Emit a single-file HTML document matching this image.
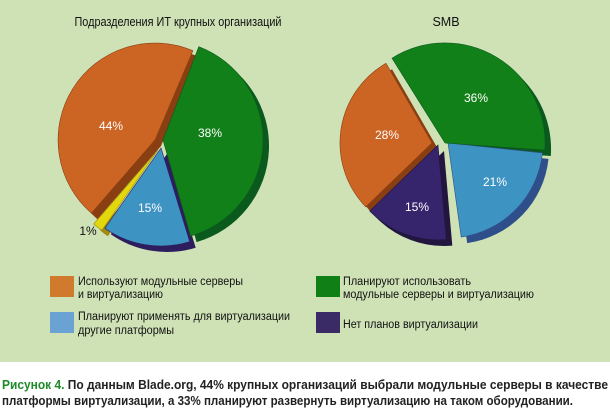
<!DOCTYPE html>
<html><head><meta charset="utf-8"><style>
html,body{margin:0;padding:0;background:#fff;}
svg{display:block}
text{font-family:"Liberation Sans","DejaVu Sans",sans-serif;}
</style></head><body>
<svg id="s" width="610" height="409" viewBox="0 0 610 409" xmlns="http://www.w3.org/2000/svg">
<rect x="0" y="0" width="610" height="362" fill="#cfe2b6"/>
<g id="pies"></g>
<text x="178" y="26" font-size="12.5" text-anchor="middle" fill="#111" textLength="207" lengthAdjust="spacingAndGlyphs">Подразделения ИТ крупных организаций</text>
<text x="446" y="26" font-size="12.5" text-anchor="middle" fill="#111">SMB</text>
<g font-size="12" fill="#fff" text-anchor="middle">
<text x="111" y="130">44%</text>
<text x="210" y="137">38%</text>
<text x="150" y="212">15%</text>
<text x="387" y="139">28%</text>
<text x="476" y="102">36%</text>
<text x="495" y="186">21%</text>
<text x="417" y="211">15%</text>
</g>
<text x="88" y="235" font-size="12" fill="#111" text-anchor="middle">1%</text>
<g font-size="11.5" fill="#111">
<rect x="50" y="276" width="24" height="21" fill="#d07a2e"/>
<text x="78" y="285" textLength="165" lengthAdjust="spacingAndGlyphs">Используют модульные серверы</text>
<text x="78" y="298" textLength="85" lengthAdjust="spacingAndGlyphs">и виртуализацию</text>
<rect x="50" y="312" width="24" height="21" fill="#6ba2d4"/>
<text x="78" y="320" textLength="212" lengthAdjust="spacingAndGlyphs">Планируют применять для виртуализации</text>
<text x="78" y="334" textLength="96" lengthAdjust="spacingAndGlyphs">другие платформы</text>
<rect x="316" y="276" width="24" height="21" fill="#108016"/>
<text x="343" y="285" textLength="128" lengthAdjust="spacingAndGlyphs">Планируют использовать</text>
<text x="343" y="298" textLength="191" lengthAdjust="spacingAndGlyphs">модульные серверы и виртуализацию</text>
<rect x="316" y="312" width="24" height="21" fill="#3a2a66"/>
<text x="343" y="328" textLength="135" lengthAdjust="spacingAndGlyphs">Нет планов виртуализации</text>
</g>
<g font-size="12.5" font-weight="bold" fill="#222">
<text x="2" y="389" textLength="606" lengthAdjust="spacingAndGlyphs"><tspan fill="#1f8a2a">Рисунок 4.</tspan> По данным Blade.org, 44% крупных организаций выбрали модульные серверы в качестве</text>
<text x="2" y="405" textLength="571" lengthAdjust="spacingAndGlyphs">платформы виртуализации, а 33% планируют развернуть виртуализацию на таком оборудовании.</text>
</g>
</svg>
<script>
function wedge(cx,cy,r,a0,a1){
 var rad=function(a){return (a-90)*Math.PI/180;};
 var x0=cx+r*Math.cos(rad(a0)),y0=cy+r*Math.sin(rad(a0));
 var x1=cx+r*Math.cos(rad(a1)),y1=cy+r*Math.sin(rad(a1));
 var large=(a1-a0)>180?1:0;
 return "M"+cx+","+cy+" L"+x0.toFixed(1)+","+y0.toFixed(1)+" A"+r+","+r+" 0 "+large+" 1 "+x1.toFixed(1)+","+y1.toFixed(1)+" Z";
}
var slices=[
 [155,140,97,221,383,"#cc6423","#8a3f12"],
 [158,150,98,215,221,"#e2d80c","#a08a10"],
 [161,148,98,163,215,"#3d93c2","#2e1d5e"],
 [163,140,100,21,164,"#128019","#0a5a1e"],
 [432,143,92,226,330,"#cc6423","#8a3f12"],
 [438,145,95,175,226,"#36246c","#22163f"],
 [448,143,95,96,172,"#3d93c2","#2f4f8a"],
 [445,143,100,-32,94,"#128019","#0a5a1e"]
];
var g=document.getElementById("pies"),h="";
slices.forEach(function(s){
 h+='<path d="'+wedge(s[0]+6,s[1]+6,s[2],s[3],s[4])+'" fill="'+s[6]+'"/>';
});
slices.forEach(function(s){
 h+='<path d="'+wedge(s[0],s[1],s[2],s[3],s[4])+'" fill="'+s[5]+'" stroke="'+s[6]+'" stroke-width="0.6"/>';
});
g.innerHTML=h;
</script>
</body></html>
